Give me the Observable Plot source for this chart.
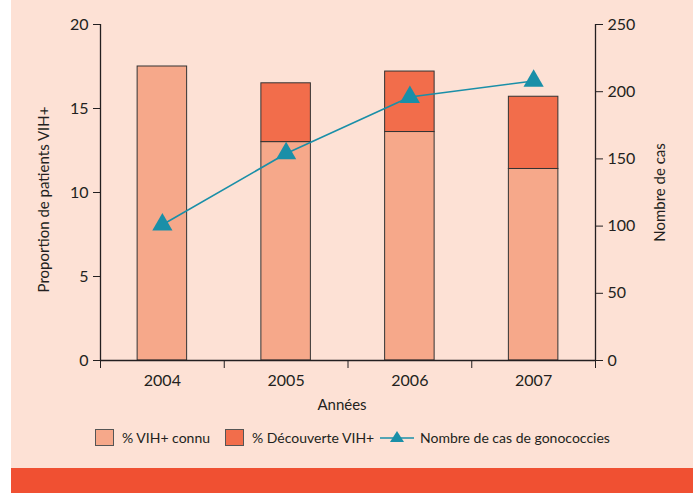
<!DOCTYPE html>
<html><head><meta charset="utf-8">
<script src="https://cdn.jsdelivr.net/npm/d3@7"></script>
<script src="https://cdn.jsdelivr.net/npm/@observablehq/plot@0.6"></script>
<style>
body{margin:0;background:#fff;font-family:Lato,sans-serif;color:#231f20}
#wrap{position:absolute;left:11px;top:0;width:682px;height:468px;background:#fde1d5}
#band{position:absolute;left:11px;top:468px;width:682px;height:25px;background:#f05032}
#legend{position:absolute;left:0;top:426px;width:682px;height:22px;font-size:14px}
.item{position:absolute;top:0;display:flex;align-items:center;height:22px}
.sw{width:19px;height:17px;border:1px solid #555;box-sizing:border-box;margin-right:8px}
</style></head>
<body>
<div id="wrap"><div id="chart"></div><div id="legend"></div></div>
<div id="band"></div>
<script>
const years = [2004, 2005, 2006, 2007];
const known = [17.5, 13.0, 13.6, 11.4];
const discovered = [0, 3.5, 3.6, 4.3];
const cases = [101, 154, 196, 208];
const leftTicks = [0, 5, 10, 15, 20];
const rightTicks = [0, 50, 100, 150, 200, 250];
const seriesNames = ["% VIH+ connu", "% Découverte VIH+", "Nombre de cas de gonococcies"];
const colors = ["#f6a88a", "#f26d4b", "#1a8fa8"];

const ratio = 20 / 250;
const bars = [];
years.forEach((y, i) => {
  bars.push({year: y, series: seriesNames[0], value: known[i]});
  bars.push({year: y, series: seriesNames[1], value: discovered[i]});
});
const line = years.map((y, i) => ({year: y, cases: cases[i]}));
const boundaries = [...years.map(y => y - 0.5), years[years.length - 1] + 0.5];

const plot = Plot.plot({
  width: 682,
  height: 420,
  marginLeft: 89,
  marginRight: 98,
  marginTop: 24,
  marginBottom: 60,
  style: {background: "transparent", fontFamily: "Lato, sans-serif", fontSize: "15.5px", color: "#231f20"},
  x: {domain: [years[0] - 0.5, years[years.length - 1] + 0.5]},
  y: {domain: [0, 20]},
  color: {domain: seriesNames.slice(0, 2), range: colors.slice(0, 2)},
  marks: [
    Plot.rectY(bars.filter(d => d.value > 0), Plot.stackY({
      x1: d => d.year - 0.2, x2: d => d.year + 0.2, y: "value", fill: "series",
      stroke: "#333", strokeWidth: 1, order: seriesNames
    })),
    Plot.line(line, {x: "year", y: d => d.cases * ratio, stroke: colors[2], strokeWidth: 1.6}),
    Plot.dot(line, {x: "year", y: d => d.cases * ratio, symbol: "triangle", fill: colors[2], r: 7.5}),
    Plot.axisY(leftTicks, {anchor: "left", tickSize: 7, tickPadding: 5, label: null, fontSize: 16}),
    Plot.axisY(rightTicks.map(v => v * ratio), {anchor: "right", tickSize: 7, tickPadding: 5, label: null, fontSize: 16, tickFormat: d => Math.round(d / ratio)}),
    Plot.axisX(boundaries, {tickSize: 8, tickFormat: () => "", label: null}),
    Plot.axisX(years, {tickSize: 0, tickPadding: 14, label: null, fontSize: 16, tickFormat: d => String(d)}),
    Plot.ruleX([years[0] - 0.5, years[years.length - 1] + 0.5], {stroke: "#231f20", strokeWidth: 1.3}),
    Plot.ruleY([0], {stroke: "#231f20", strokeWidth: 1.3}),
    Plot.text(["Proportion de patients VIH+"], {frameAnchor: "left", textAnchor: "middle", dx: -56, dy: 7, rotate: -90, fontSize: 15, fill: "#231f20"}),
    Plot.text(["Nombre de cas"], {frameAnchor: "right", textAnchor: "middle", dx: 65, dy: 0, rotate: -90, fontSize: 15, fill: "#231f20"}),
    Plot.text(["Années"], {frameAnchor: "bottom", dx: -6, dy: 49, fontSize: 15, fill: "#231f20"})
  ]
});
document.getElementById("chart").appendChild(plot);

const leg = document.getElementById("legend");
const pos = [84, 214, 369];
seriesNames.forEach((name, i) => {
  const it = document.createElement("div");
  it.className = "item";
  it.style.left = pos[i] + "px";
  if (i < 2) {
    it.innerHTML = `<div class="sw" style="background:${colors[i]}"></div><span>${name}</span>`;
  } else {
    it.innerHTML = `<svg width="34" height="16" style="margin-right:6px"><line x1="0" y1="9" x2="34" y2="9" stroke="${colors[2]}" stroke-width="1.6"/><path d="M17,2 L24,13 L10,13 Z" fill="${colors[2]}"/></svg><span>${name}</span>`;
  }
  leg.appendChild(it);
});
</script>
</body></html>
